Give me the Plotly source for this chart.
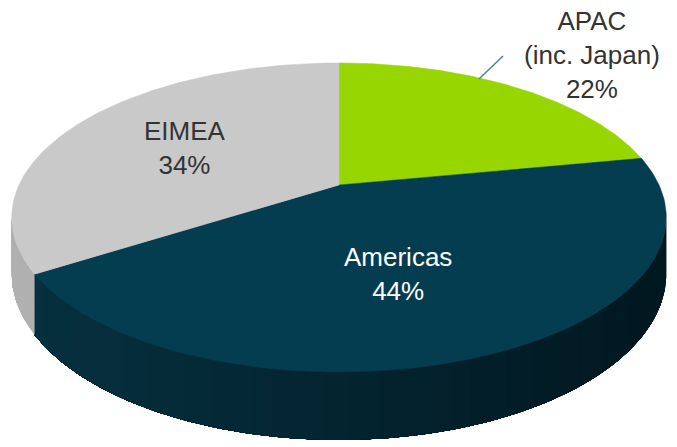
import numpy as np
import plotly.graph_objects as go

# ---- data ----
regions = ["APAC<br>(inc. Japan)", "Americas", "EIMEA"]
shares = [22, 44, 34]
top_colors = ["#97d600", "#043c50", "#c9c9c9"]
side_left_colors = ["#7fb400", "#06303f", "#b0b0b0"]
side_right_colors = ["#6a9600", "#011821", "#a4a4a4"]
label_colors = ["#333333", "#ffffff", "#333333"]

# ---- geometry of the projected 3D pie (pixel space) ----
W, H = 677, 447
cx, cy = 339.0, 185.0   # pie centre on screen
A, B = 320.0, 147.7     # radii of the top disc
k = 0.21                # perspective strength
D = 53.7                # thickness

def proj(phi, depth=0.0):
    x = np.sin(phi)
    v = -np.cos(phi)
    d = 1 - k * v
    return cx + A * x / d, cy + B * v / d + D * depth / d

total = float(sum(shares))
bounds = np.concatenate([[0.0], np.cumsum(shares) / total]) * 2 * np.pi
vis_a = np.arccos(-k)
vis_b = 2 * np.pi - vis_a

fig = go.Figure()

def hex2rgb(h):
    h = h.lstrip("#")
    return np.array([int(h[i:i + 2], 16) for i in (0, 2, 4)], dtype=float)

# sides: overlapping strips (each runs to the slice end) for smooth shading
for i in range(len(shares)):
    a = max(bounds[i], vis_a)
    b = min(bounds[i + 1], vis_b)
    if b <= a:
        continue
    cl, cr = hex2rgb(side_left_colors[i]), hex2rgb(side_right_colors[i])
    nseg = max(2, int((b - a) / np.radians(1.5)))
    edges = np.linspace(a, b, nseg + 1)
    for j in range(nseg):
        ph = np.linspace(edges[j], b, max(3, int((b - edges[j]) / np.radians(1)) + 2))
        xt, yt = proj(ph)
        xb, yb = proj(ph[::-1], 1.0)
        xs = np.concatenate([xt, xb, xt[:1]])
        ys = np.concatenate([yt, yb, yt[:1]])
        xmid = proj(np.array([(edges[j] + edges[j + 1]) / 2]))[0][0]
        t = np.clip((xmid / W - 0.05) / 0.9, 0, 1)
        c = cl * (1 - t) + cr * t
        col = "rgb(%d,%d,%d)" % tuple(c.round())
        fig.add_trace(go.Scatter(x=xs, y=ys, fill="toself", fillcolor=col,
                                 mode="lines", line=dict(width=0),
                                 hoverinfo="skip", showlegend=False))

# tops
for i in range(len(shares)):
    ph = np.linspace(bounds[i], bounds[i + 1], 120)
    xt, yt = proj(ph)
    xs = np.concatenate([[cx], xt, [cx]])
    ys = np.concatenate([[cy], yt, [cy]])
    fig.add_trace(go.Scatter(x=xs, y=ys, fill="toself", fillcolor=top_colors[i],
                             mode="lines", line=dict(color=top_colors[i], width=0.5),
                             hoverinfo="skip", showlegend=False))

# labels
label_pos = [(592, 55), (398, 274), (185, 148)]
for i in range(len(shares)):
    fig.add_annotation(x=label_pos[i][0], y=label_pos[i][1],
                       text=f"{regions[i]}<br>{shares[i]}%", showarrow=False,
                       font=dict(family="Liberation Sans, Arial", size=26, color=label_colors[i]),
                       align="center", xanchor="center", yanchor="middle")

# leader line for APAC
fig.add_shape(type="line", x0=479, y0=79, x1=503, y1=56,
              line=dict(color="#4f8294", width=1.5))

fig.update_layout(
    width=W, height=H, margin=dict(l=0, r=0, t=0, b=0),
    paper_bgcolor="white", plot_bgcolor="white",
    xaxis=dict(range=[0, W], visible=False, fixedrange=True),
    yaxis=dict(range=[H, 0], visible=False, fixedrange=True),
    showlegend=False,
)
fig.write_html("out.html")
